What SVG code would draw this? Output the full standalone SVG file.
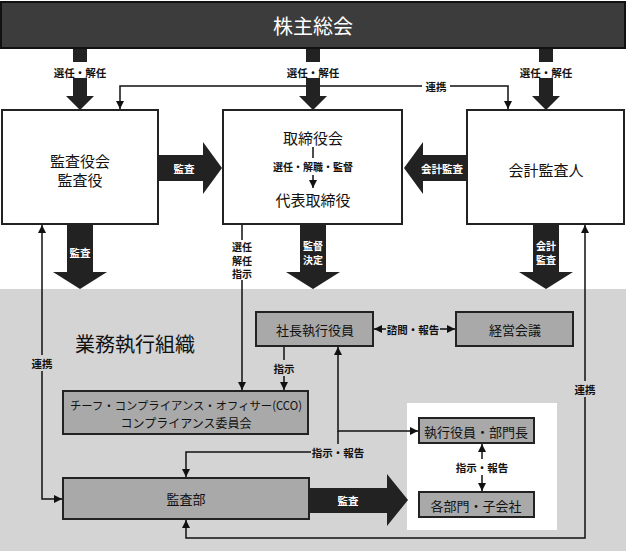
<svg xmlns="http://www.w3.org/2000/svg" width="626" height="551" viewBox="0 0 626 551">
<defs>
<style>
text{font-family:"Noto Sans CJK JP","Noto Sans",sans-serif;text-anchor:middle;dominant-baseline:central}
.big{font-size:15px;fill:#111}
.mid{font-size:13px;fill:#111}
.lbl{font-size:10.5px;font-weight:bold;fill:#111}
.stk{font-size:10px;font-weight:bold;fill:#111}
.wl{font-size:10.5px;font-weight:bold;fill:#fff}
.wst{font-size:10px;font-weight:bold;fill:#fff}
.box{fill:#fff;stroke:#222;stroke-width:2}
.gbox{fill:#a9a9a9;stroke:#222;stroke-width:2}
.arr{fill:#222}
.ln{fill:none;stroke:#111;stroke-width:1.5}
.bgw{fill:#fff}
.bgg{fill:#d4d4d4}
</style>
<marker id="ah" viewBox="0 0 10 10" refX="10" refY="5" markerWidth="8" markerHeight="8" markerUnits="userSpaceOnUse" orient="auto-start-reverse">
<path d="M0,0 L10,5 L0,10 Z" fill="#111"/>
</marker>
</defs>
<rect x="0" y="289" width="626" height="262" fill="#d4d4d4"/>
<rect x="407" y="403" width="150" height="127" fill="#fff"/>
<g id="connectors">
<path class="ln" d="M120,109 V86 H508 V109" marker-start="url(#ah)" marker-end="url(#ah)"/>
<rect class="bgw" x="422" y="79" width="28" height="14"/>
<text class="lbl" x="436" y="86">連携</text>
<path class="ln" d="M42,225 V499 H62" marker-start="url(#ah)" marker-end="url(#ah)"/>
<rect class="bgg" x="29" y="355" width="26" height="16"/>
<text class="lbl" x="42" y="363">連携</text>
<path class="ln" d="M242,225 V390" marker-end="url(#ah)"/>
<rect class="bgw" x="231" y="240" width="22" height="40"/>
<text class="stk" x="242" y="246.5">選任</text>
<text class="stk" x="242" y="260">解任</text>
<text class="stk" x="242" y="273.5">指示</text>
<path class="ln" d="M585,225 V538 H186 V520" marker-start="url(#ah)" marker-end="url(#ah)"/>
<rect class="bgg" x="572" y="381" width="26" height="16"/>
<text class="lbl" x="585" y="389">連携</text>
<path class="ln" d="M284,347 V390" marker-end="url(#ah)"/>
<rect class="bgg" x="271" y="360" width="26" height="16"/>
<text class="lbl" x="284" y="368">指示</text>
<path class="ln" d="M374,329 H455" marker-start="url(#ah)" marker-end="url(#ah)"/>
<rect class="bgg" x="386" y="321" width="54" height="16"/>
<text class="lbl" x="413" y="329">諮問・報告</text>
<path class="ln" d="M338,347 V431 H418" marker-start="url(#ah)" marker-end="url(#ah)"/>
<path class="ln" d="M338,431 V452 H186 V477" marker-end="url(#ah)"/>
<rect class="bgg" x="311" y="444" width="54" height="16"/>
<text class="lbl" x="338" y="452">指示・報告</text>
<path class="ln" d="M482,444 V491" marker-start="url(#ah)" marker-end="url(#ah)"/>
<rect class="bgw" x="455" y="459" width="54" height="16"/>
<text class="lbl" x="482" y="467">指示・報告</text>
</g>
<g id="arrows">
<rect class="arr" x="73" y="47" width="14" height="15"/>
<polygon class="arr" points="73,78 87,78 87,96 94,96 80,110 66,96 73,96"/>
<text class="lbl" x="80" y="72">選任・解任</text>
<rect class="arr" x="306" y="47" width="14" height="15"/>
<polygon class="arr" points="306,78 320,78 320,96 327,96 313,110 299,96 306,96"/>
<text class="lbl" x="313" y="72">選任・解任</text>
<rect class="arr" x="539" y="47" width="14" height="15"/>
<polygon class="arr" points="539,78 553,78 553,96 560,96 546,110 532,96 539,96"/>
<text class="lbl" x="546" y="72">選任・解任</text>
<polygon class="arr" points="158,155 203,155 203,142 222,168 203,194 203,181 158,181"/>
<text class="wl" x="184" y="168">監査</text>
<polygon class="arr" points="467,155 423,155 423,142 404,168 423,194 423,181 467,181"/>
<text class="wl" x="442" y="168">会計監査</text>
<polygon class="arr" points="67,224 93,224 93,272 107,272 80,289 53,272 67,272"/>
<text class="wl" x="80" y="252">監査</text>
<polygon class="arr" points="300,224 326,224 326,272 340,272 313,289 286,272 300,272"/>
<text class="wst" x="313" y="245.5">監督</text>
<text class="wst" x="313" y="259">決定</text>
<polygon class="arr" points="533,224 559,224 559,272 573,272 546,289 519,272 533,272"/>
<text class="wst" x="546" y="245.5">会計</text>
<text class="wst" x="546" y="259">監査</text>
<polygon class="arr" points="309,488 387,488 387,474 408,500 387,526 387,513 309,513"/>
<text class="wl" x="348" y="500">監査</text>
</g>
<g id="shareholders">
<rect x="1" y="2" width="624" height="46" fill="#3c3c3c" stroke="#111" stroke-width="2"/>
<text x="313" y="25" style="font-size:20px;fill:#fff">株主総会</text>
</g>
<g id="auditors">
<rect class="box" x="2" y="110" width="156" height="114"/>
<text class="big" x="80" y="160">監査役会</text>
<text class="big" x="80" y="179">監査役</text>
</g>
<g id="board">
<rect class="box" x="223" y="110" width="179" height="114"/>
<text class="big" x="313" y="137">取締役会</text>
<path class="ln" d="M313,147 V158"/>
<text class="stk" x="313" y="166">選任・解職・監督</text>
<path class="ln" d="M313,175 V188" marker-end="url(#ah)"/>
<text class="big" x="313" y="199">代表取締役</text>
</g>
<g id="accountant">
<rect class="box" x="467" y="110" width="157" height="114"/>
<text class="big" x="546" y="169">会計監査人</text>
</g>
<g id="exec-title">
<text x="135" y="343" style="font-size:20px;fill:#111">業務執行組織</text>
</g>
<g id="president">
<rect class="gbox" x="256" y="312" width="117" height="34"/>
<text class="mid" x="315" y="329">社長執行役員</text>
</g>
<g id="mgmt">
<rect class="gbox" x="456" y="312" width="117" height="34"/>
<text class="mid" x="515" y="329">経営会議</text>
</g>
<g id="cco">
<rect class="gbox" x="63" y="391" width="245" height="43"/>
<text x="186" y="405" style="font-size:11.5px;fill:#111" textLength="232" lengthAdjust="spacingAndGlyphs">チーフ・コンプライアンス・オフィサー(CCO)</text>
<text x="186" y="422.5" style="font-size:12px;fill:#111">コンプライアンス委員会</text>
</g>
<g id="audit-dept">
<rect class="gbox" x="63" y="478" width="246" height="41"/>
<text class="mid" x="186" y="498">監査部</text>
</g>
<g id="officers">
<rect class="gbox" x="419" y="418" width="115" height="25"/>
<text class="mid" x="476" y="431">執行役員・部門長</text>
</g>
<g id="divisions">
<rect class="gbox" x="419" y="492" width="115" height="25"/>
<text class="mid" x="476" y="505">各部門・子会社</text>
</g>
</svg>
